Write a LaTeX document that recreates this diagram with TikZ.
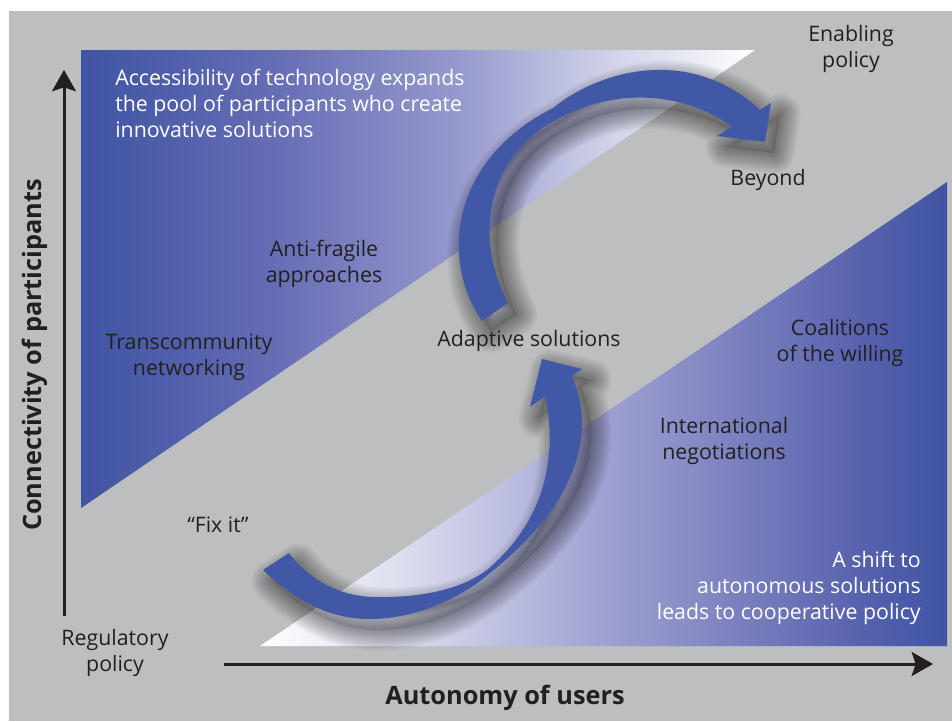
\documentclass[tikz,border=0pt]{standalone}
\usepackage{fontspec}
\setmainfont{Open Sans}
\usetikzlibrary{arrows.meta}
\definecolor{bg}{RGB}{189,190,192}
\definecolor{dblue}{RGB}{63,84,163}
\definecolor{ablue}{RGB}{65,88,167}
\definecolor{txt}{RGB}{35,31,32}
\definecolor{ua}{RGB}{100,108,180}
\definecolor{ub}{RGB}{150,153,205}
\definecolor{uc}{RGB}{205,207,232}
\definecolor{la}{RGB}{222,223,240}
\definecolor{lb}{RGB}{190,192,225}
\definecolor{lc}{RGB}{160,162,210}
\definecolor{ld}{RGB}{133,138,196}
\definecolor{le}{RGB}{90,100,175}
\pgfdeclarehorizontalshading{uppershade}{100bp}{color(0bp)=(dblue); color(25bp)=(dblue); color(39bp)=(ua); color(53bp)=(ub); color(63.5bp)=(uc); color(75bp)=(white); color(100bp)=(white)}
\pgfdeclarehorizontalshading{lowershade}{100bp}{color(0bp)=(white); color(25bp)=(white); color(35bp)=(la); color(42.5bp)=(lb); color(49.7bp)=(lc); color(57bp)=(ld); color(68bp)=(le); color(75bp)=(dblue); color(100bp)=(dblue)}
\def\upperarrow{(482,321) .. controls (440,260) and (450,160) .. (553,108)
  .. controls (600,70) and (690,45) .. (760,110)
  -- (771,103) -- (765,142) -- (717,136) -- (732,127)
  .. controls (690,95) and (620,85) .. (560,118)
  .. controls (492,150) and (470,230) .. (508,303) -- cycle}
\def\lowerarrow{(263,570) .. controls (300,605) and (335,620) .. (373,619)
  .. controls (420,618) and (465,595) .. (490,573)
  .. controls (550,525) and (605,455) .. (572,376)
  -- (582,369) -- (542,359) -- (530,407) -- (545,396)
  .. controls (556,445) and (552,515) .. (487,570)
  .. controls (460,590) and (420,598) .. (373,597)
  .. controls (335,596) and (305,575) .. (289,553) -- cycle}
\begin{document}
\begin{tikzpicture}[x=0.75pt,y=-0.75pt,
  lbl/.style={text=txt, font=\fontsize{16}{19.5}\selectfont, align=center, inner sep=0pt},
  wlbl/.style={lbl, text=white},
  axislbl/.style={text=txt, font=\fontsize{19}{22}\selectfont\bfseries, inner sep=0pt},
  axis/.style={draw=txt, line width=2.25pt, -{Stealth[length=16pt,width=18pt,inset=3pt]}},
  shadowlayer/.style={draw=black, line width=#1, line join=round, opacity=0.032},
  shadowcore/.style={fill=black, opacity=0.1},
  arrowbody/.style={fill=ablue}]
\useasboundingbox (0,0) rectangle (952,721);
\fill[white] (0,0) rectangle (952,721);
\fill[bg] (9,11) rectangle (952,721);
% triangles
\shade[shading=uppershade] (81,50) -- (755,50) -- (81,508) -- cycle;
\shade[shading=lowershade] (260,646) -- (947,646) -- (947,182) -- cycle;
% axes
\coordinate (yb) at (64,616);
\coordinate (yt) at (64,70);
\coordinate (xl) at (224,664);
\coordinate (xr) at (933,664);
\draw[axis] (yb) -- (yt);
\draw[axis] (xl) -- (xr);
% arrow shadows
\begin{scope}[shift={(9,11)}]
\fill[shadowcore] \upperarrow;
\fill[shadowcore] \lowerarrow;
\foreach \w in {2,5,8,11,14,17,20,23,26,29,32,35,38,41} {
  \draw[shadowlayer=\w*0.75pt] \upperarrow;
  \draw[shadowlayer=\w*0.75pt] \lowerarrow;
}
\end{scope}
\fill[arrowbody] \upperarrow;
\fill[arrowbody] \lowerarrow;
% labels
\node[lbl] (enab) at (851,49) {Enabling\\policy};
\node[wlbl, align=left, anchor=west] (access) at (115,103) {Accessibility of technology expands\\the pool of participants who create\\innovative solutions};
\node[lbl] (beyond) at (768,180) {Beyond};
\node[lbl] (anti) at (324,264) {Anti-fragile\\approaches};
\node[lbl] (trans) at (189,357) {Transcommunity\\networking};
\node[lbl] (adapt) at (529,341) {Adaptive solutions};
\node[lbl] (coal) at (840,343) {Coalitions\\of the willing};
\node[lbl] (intl) at (724,441) {International\\negotiations};
\node[lbl] (fix) at (218,525) {“Fix it”};
\node[wlbl, align=right, anchor=east] (shift) at (921,588) {A shift to\\autonomous solutions\\leads to cooperative policy};
\node[lbl] (reg) at (115,653) {Regulatory\\policy};
\node[axislbl, rotate=90] (conn) at (35,355) {Connectivity of participants};
\node[axislbl] (auto) at (505,698) {Autonomy of users};
\end{tikzpicture}
\end{document}
